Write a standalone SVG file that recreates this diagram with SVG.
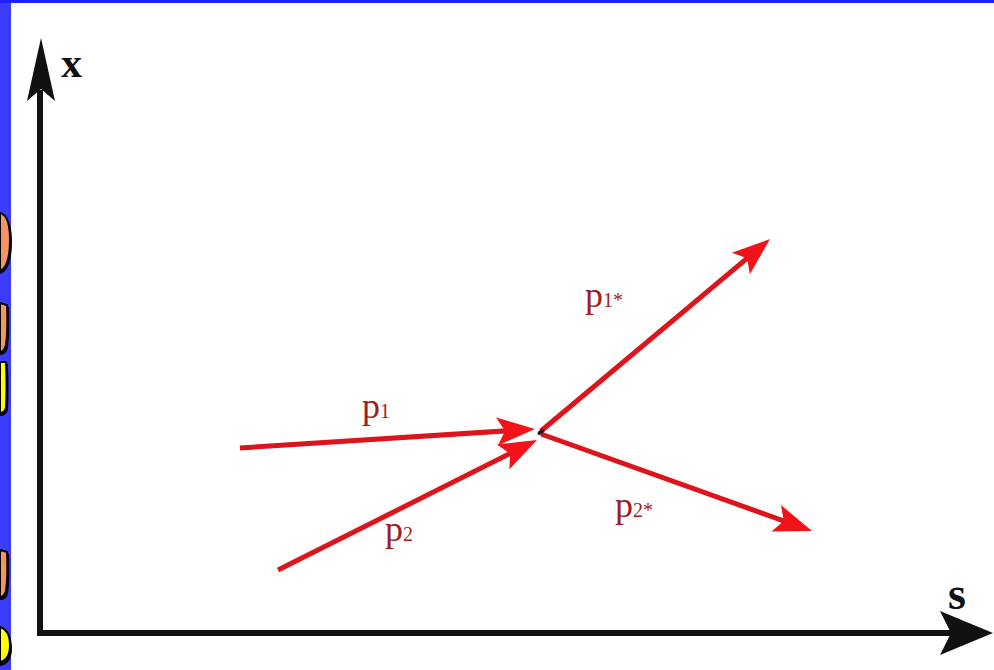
<svg xmlns="http://www.w3.org/2000/svg" width="994" height="670" viewBox="0 0 994 670">
<defs>
<style>
.lbl{font-family:"Liberation Serif","Times New Roman",serif;fill:#a01c20}
.p{font-size:36px}
.sub{font-size:20px}
.ax{font-family:"Liberation Serif","Times New Roman",serif;font-weight:bold;fill:#111}
.vec{stroke:#dc141c;stroke-width:5;fill:none}
.blob{stroke:#000;stroke-width:2}
</style>
<marker id="rh" viewBox="-22 -16 46 32" refX="0" refY="0" markerWidth="46" markerHeight="32" markerUnits="userSpaceOnUse" orient="auto">
<path d="M20,0 L-18,-14 L-10,0 L-18,14 Z" fill="#f2121a"/>
</marker>
</defs>
<rect x="0" y="0" width="994" height="670" fill="#3c3cfc"/>
<rect x="0" y="0" width="994" height="3" fill="#1e1eff"/>
<rect x="11" y="3" width="983" height="667" fill="#ffffff"/>
<g id="side-shapes">
<path d="M0,215 Q12,216 12,242 Q12,270 0,274 Z" fill="#000"/>
<path class="blob" d="M0,213 Q10,215 10,240 Q10,267 0,271 Z" fill="#f79462"/>
<path d="M0,305 L9,307 Q10,332 8,348 Q6,355 0,355 Z" fill="#000"/>
<path class="blob" d="M0,303 L7,305 Q8,330 6,345 Q4,352 0,352 Z" fill="#f79462"/>
<path d="M0,364 L8,364 Q9,390 8,410 Q6,416 0,416 Z" fill="#000"/>
<path class="blob" d="M0,362 L6,362 Q7,388 6,408 Q4,413 0,413 Z" fill="#ffff00"/>
<path d="M0,552 L9,554 Q10,578 8,594 Q6,600 0,600 Z" fill="#000"/>
<path class="blob" d="M0,550 L7,552 Q8,576 6,591 Q4,597 0,597 Z" fill="#f79462"/>
<path d="M0,629 Q12,632 12,648 Q12,664 0,666 Z" fill="#000"/>
<path class="blob" d="M0,627 Q10,630 10,645 Q10,660 0,662 Z" fill="#ffff00"/>
</g>
<g id="axes">
<line x1="40" y1="636" x2="40" y2="90" stroke="#111" stroke-width="6"/>
<path d="M41,38 L55,101 L41,89 L27,101 Z" fill="#111"/>
<line x1="37" y1="633" x2="955" y2="633" stroke="#111" stroke-width="6"/>
<path d="M993,633 L940,655 L951,633 L940,611 Z" fill="#111"/>
<text class="ax" x="61" y="77" font-size="42">x</text>
<text class="ax" x="948" y="609" font-size="46">s</text>
</g>
<g id="connectors">
<path id="v-p1" class="vec" d="M240,448 L515,430.3" marker-end="url(#rh)"/>
<path id="v-p2" class="vec" d="M278,570 L519.1,449" marker-end="url(#rh)" stroke-width="4"/>
<path id="v-p1s" class="vec" d="M541,431 L754.7,251.9" marker-end="url(#rh)" stroke-width="4.5"/>
<path id="v-p2s" class="vec" d="M541,434 L793.2,524.3" marker-end="url(#rh)" stroke-width="4.5"/>
<ellipse cx="541" cy="432" rx="4" ry="2" transform="rotate(-35 541 432)" fill="#301020"/>
</g>
<g id="label-p1"><text class="lbl" x="362" y="418"><tspan class="p">p</tspan><tspan class="sub">1</tspan></text></g>
<g id="label-p2"><text class="lbl" x="385" y="541"><tspan class="p">p</tspan><tspan class="sub">2</tspan></text></g>
<g id="label-p1s"><text class="lbl" x="585" y="307"><tspan class="p">p</tspan><tspan class="sub">1*</tspan></text></g>
<g id="label-p2s"><text class="lbl" x="615" y="517"><tspan class="p">p</tspan><tspan class="sub">2*</tspan></text></g>
</svg>
